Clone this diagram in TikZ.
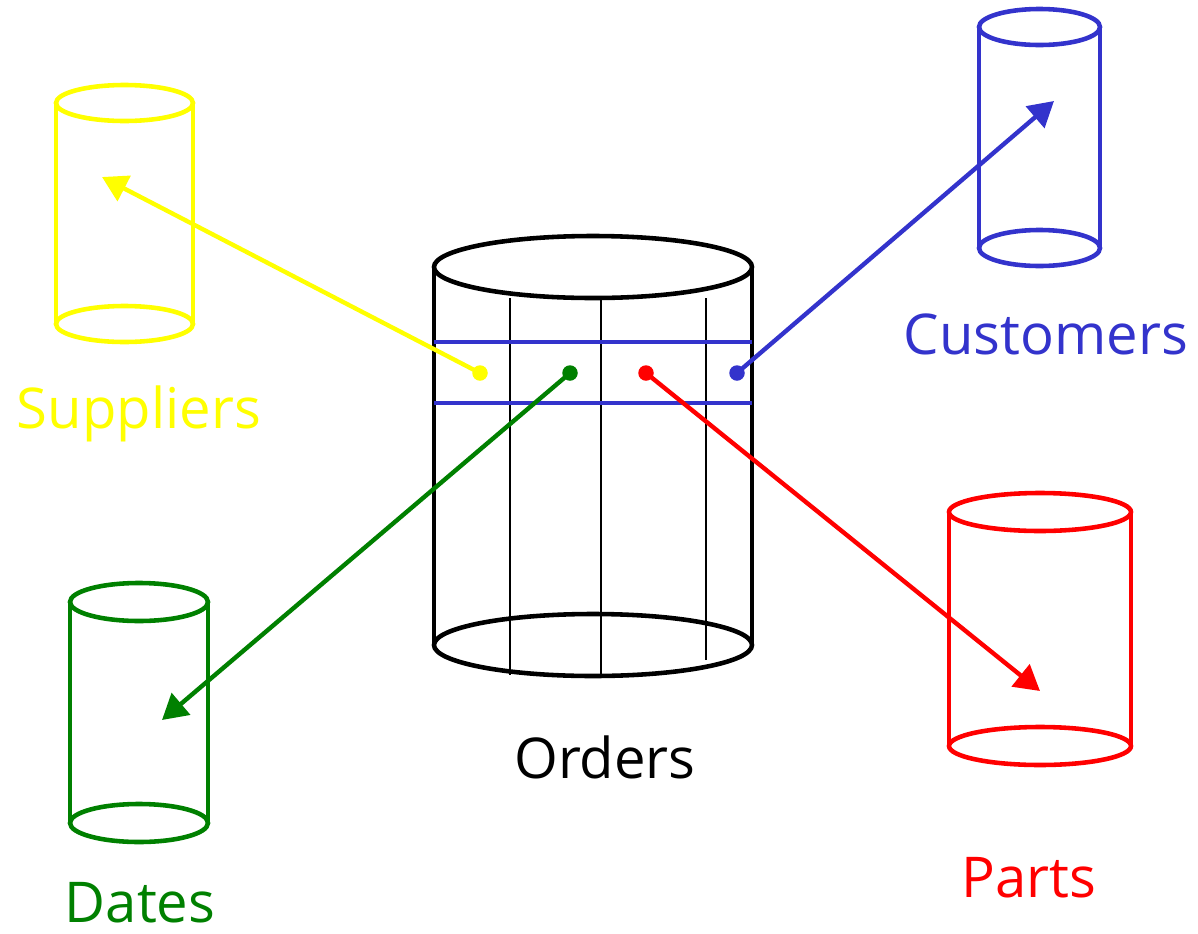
\documentclass[tikz,border=0pt]{standalone}
\usepackage{fontspec}
\setmainfont{Open Sans}
\usetikzlibrary{arrows.meta}
\definecolor{supcol}{HTML}{FFFF00}
\definecolor{cuscol}{HTML}{3333CC}
\definecolor{datcol}{HTML}{008000}
\definecolor{parcol}{HTML}{FF0000}
\tikzset{
  cylline/.style={line width=2.6pt},
  gridline/.style={line width=1.2pt},
  rowline/.style={line width=2.6pt, cuscol},
  link/.style={line width=2.5pt, -{Triangle[length=0.5cm,width=0.56cm]}},
  keydot/.style={circle, inner sep=0pt, minimum size=0.31cm},
  label/.style={font=\fontsize{32}{36}\selectfont, anchor=base, inner sep=0pt},
}
% #1 colour, #2 left x, #3 right x, #4 top centre y, #5 bottom centre y, #6 y radius
\newcommand{\dbcylinder}[6]{%
  \draw[cylline, #1] ({(#2+#3)/2},#4) ellipse [x radius={(#3-#2)/2}, y radius=#6];
  \draw[cylline, #1] ({(#2+#3)/2},#5) ellipse [x radius={(#3-#2)/2}, y radius=#6];
  \draw[cylline, #1] (#2,#4) -- (#2,#5) (#3,#4) -- (#3,#5);
}
\begin{document}
\begin{tikzpicture}[x=0.02cm, y=-0.02cm]
  \useasboundingbox (0,0) rectangle (1198,934);

  % central fact table
  \dbcylinder{black}{434}{752}{267}{645}{31}
  \draw[gridline] (510,298) -- (510,675);
  \draw[gridline] (601,300) -- (601,675);
  \draw[gridline] (706,298) -- (706,660);
  \draw[rowline] (434,342) -- (752,342);
  \draw[rowline] (434,403) -- (752,403);

  % dimension tables
  \dbcylinder{supcol}{56}{193}{103}{324}{18}
  \dbcylinder{cuscol}{979}{1100}{27}{248}{18}
  \dbcylinder{datcol}{70}{208}{602}{823}{19}
  \dbcylinder{parcol}{949}{1131}{512}{746}{19}

  % foreign keys in the highlighted row
  \node[keydot, fill=supcol] (ksup) at (480,373) {};
  \node[keydot, fill=datcol] (kdat) at (570,373) {};
  \node[keydot, fill=parcol] (kpar) at (646,373) {};
  \node[keydot, fill=cuscol] (kcus) at (737,373) {};

  % targets inside the dimension tables
  \coordinate (tsup) at (102,177);
  \coordinate (tcus) at (1054,101);
  \coordinate (tdat) at (162,720);
  \coordinate (tpar) at (1040,691);

  \draw[link, supcol] (ksup.center) -- (tsup);
  \draw[link, datcol] (kdat.center) -- (tdat);
  \draw[link, parcol] (kpar.center) -- (tpar);
  \draw[link, cuscol] (kcus.center) -- (tcus);

  % table names
  \node[label, supcol] (lsup) at (139,428) {Suppliers};
  \node[label, cuscol] (lcus) at (1046,354) {Customers};
  \node[label, black]  (lord) at (605,778) {Orders};
  \node[label, datcol] (ldat) at (140,922) {Dates};
  \node[label, parcol] (lpar) at (1029,897) {Parts};
\end{tikzpicture}
\end{document}
